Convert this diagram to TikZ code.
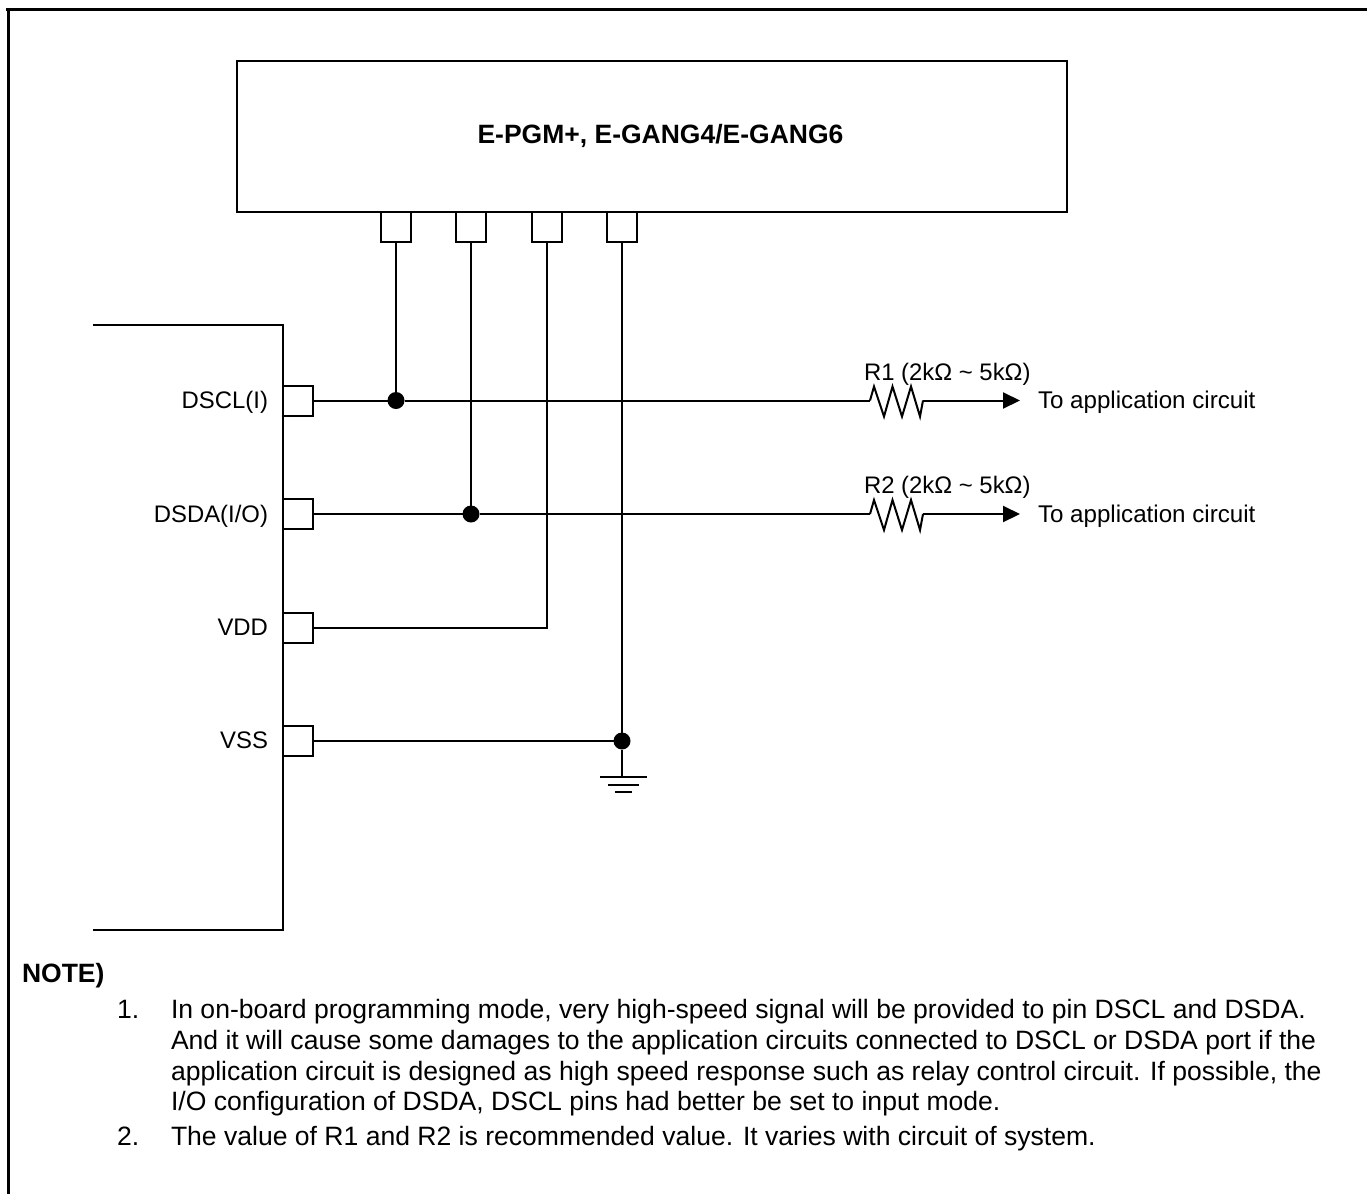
\documentclass[tikz,border=0pt]{standalone}
\usepackage{fontspec}
\setmainfont{Liberation Sans}
\usetikzlibrary{arrows.meta}
\begin{document}
\begin{tikzpicture}[x=1pt,y=-1pt,
  wire/.style={line width=2pt,draw=black},
  frameline/.style={line width=3pt,draw=black},
  pinbox/.style={draw=black,line width=2pt,minimum width=30pt,minimum height=30pt,inner sep=0pt,outer sep=0pt},
  chip/.style={draw=black,line width=2pt,inner sep=0pt,outer sep=0pt},
  dotnode/.style={circle,fill=black,minimum size=17pt,inner sep=0pt,outer sep=0pt},
  lab/.style={inner sep=0pt,outer sep=0pt,font=\fontsize{23.9pt}{28pt}\selectfont},
  labl/.style={lab,anchor=base west},
  labr/.style={lab,anchor=base east},
  totext/.style={labl,font=\fontsize{24.15pt}{28pt}\selectfont},
  notetext/.style={labl,font=\fontsize{26.55pt}{30pt}\selectfont},
  boldtext/.style={inner sep=0pt,outer sep=0pt,font=\fontsize{26.5pt}{30pt}\selectfont\bfseries},
  tip/.style={-{Triangle[length=17pt,width=16pt]}}
]
\useasboundingbox (0,0) rectangle (1367,1194);
\draw[frameline] (6,9) -- (1367,9);
\draw[frameline] (8,9) -- (8,1194);
% programmer
\node[chip,minimum width=830pt,minimum height=151pt] (prog) at (652,136.5) {};
\node[boldtext,anchor=base] (progt) at (660.5,143.5) {E-PGM+, E-GANG4/E-GANG6};
\node[pinbox] (p1) at (396,227) {};
\node[pinbox] (p2) at (471,227) {};
\node[pinbox] (p3) at (547,227) {};
\node[pinbox] (p4) at (622,227) {};
% device
\coordinate (ica) at (93,325);
\coordinate (icb) at (283,325);
\coordinate (icc) at (283,930);
\coordinate (icd) at (93,930);
\draw[wire] (ica) -- (icb) -- (icc) -- (icd);
\node[pinbox] (d1) at (298,400.5) {};
\node[pinbox] (d2) at (298,514) {};
\node[pinbox] (d3) at (298,627.5) {};
\node[pinbox] (d4) at (298,741) {};
\node[labr] (l1) at (268,408) {DSCL(I)};
\node[labr] (l2) at (268,522) {DSDA(I/O)};
\node[labr] (l3) at (268,635) {VDD};
\node[labr] (l4) at (268,748) {VSS};
% junctions
\node[dotnode] (j1) at (396,400.5) {};
\node[dotnode] (j2) at (471,514) {};
\node[dotnode] (j4) at (622,741) {};
\coordinate (c3) at (547,627.5);
\coordinate (g0) at (622,777);
% resistor ends
\coordinate (r1a) at (870,400.5);
\coordinate (r1b) at (923,400.5);
\coordinate (r2a) at (870,514);
\coordinate (r2b) at (923,514);
\coordinate (t1) at (1020,400.5);
\coordinate (t2) at (1020,514);
% wires
\draw[wire] (p1) -- (j1);
\draw[wire] (p2) -- (j2);
\draw[wire] (p3.south) -- (c3) -- (d3.east);
\draw[wire] (p4) -- (j4) -- (g0);
\draw[wire] (d1) -- (j1) -- (r1a);
\draw[wire] (d2) -- (j2) -- (r2a);
\draw[wire] (d4) -- (j4);
\draw[wire,line join=miter] (r1a) -- ++(4,-14) -- ++(10,30) -- ++(8.5,-30) -- ++(9.5,30) -- ++(9,-30) -- ++(9,30) -- (r1b);
\draw[wire,line join=miter] (r2a) -- ++(4,-14) -- ++(10,30) -- ++(8.5,-30) -- ++(9.5,30) -- ++(9,-30) -- ++(9,30) -- (r2b);
\draw[wire,tip] (r1b) -- (t1);
\draw[wire,tip] (r2b) -- (t2);
% ground
\draw[wire] (600,777) -- (647,777);
\draw[wire] (608,785) -- (639,785);
\draw[wire] (615,792) -- (632,792);
% labels
\node[labl] (rl1) at (864,380) {R1 (2kΩ \textasciitilde\ 5kΩ)};
\node[labl] (rl2) at (864,493) {R2 (2kΩ \textasciitilde\ 5kΩ)};
\node[totext] (to1) at (1038,408.5) {To application circuit};
\node[totext] (to2) at (1038,522) {To application circuit};
% note
\node[boldtext,anchor=base west] (nt) at (22,982) {NOTE)};
\node[notetext] (n1) at (117,1018) {1.};
\node[notetext] (n1a) at (171,1018) {In on-board programming mode, very high-speed signal will be provided to pin DSCL and DSDA.};
\node[notetext] (n1b) at (171,1049) {And it will cause some damages to the application circuits connected to DSCL or DSDA port if the};
\node[notetext] (n1c) at (171,1080) {application circuit is designed as high speed response such as relay control circuit. If possible, the};
\node[notetext] (n1d) at (171,1110) {I/O configuration of DSDA, DSCL pins had better be set to input mode.};
\node[notetext] (n2) at (117,1145) {2.};
\node[notetext] (n2a) at (171,1145) {The value of R1 and R2 is recommended value. It varies with circuit of system.};
\end{tikzpicture}
\end{document}
